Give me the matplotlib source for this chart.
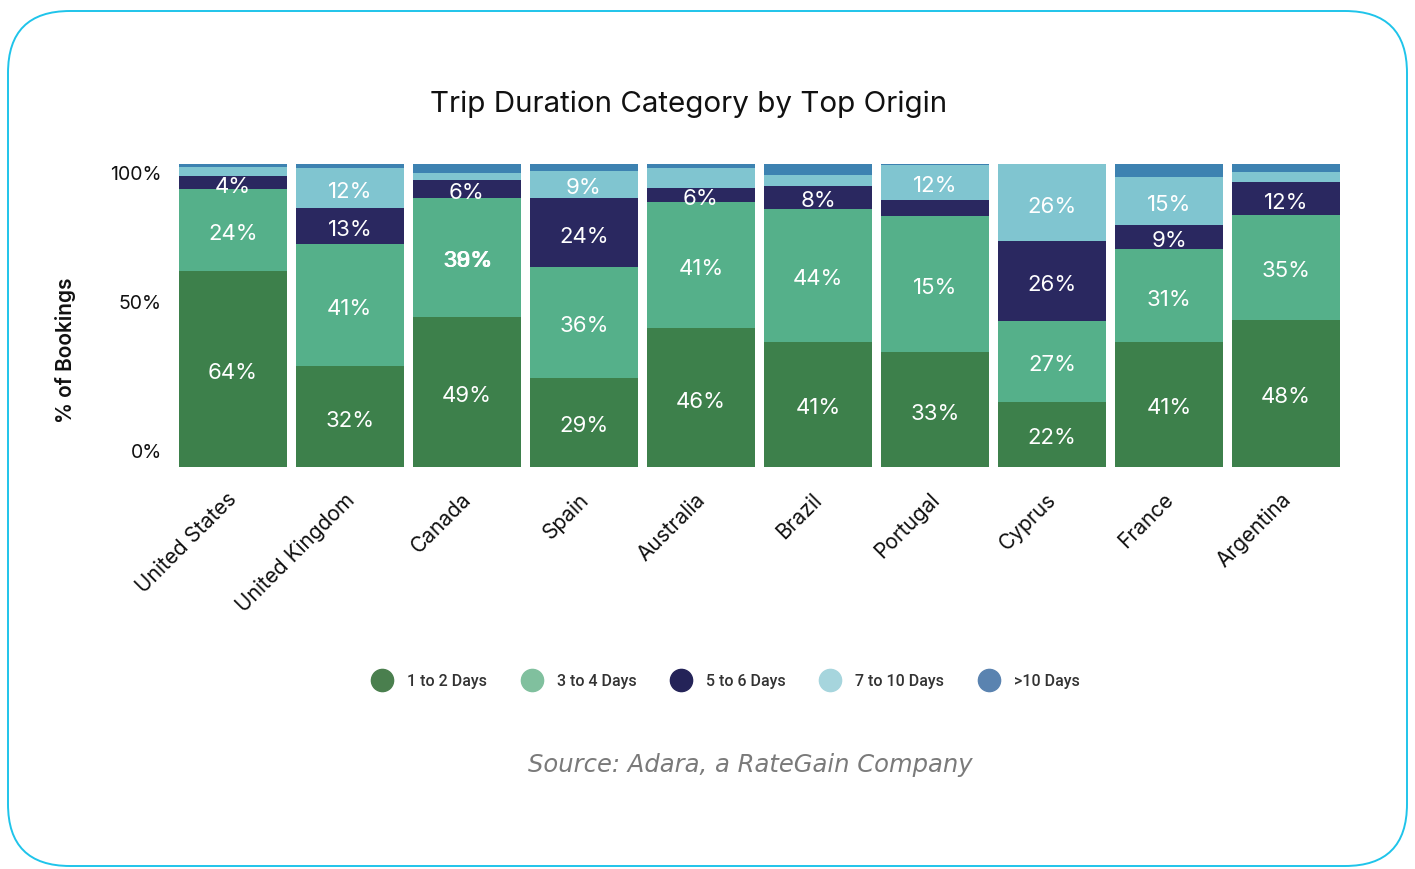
import matplotlib
matplotlib.use("Agg")
from matplotlib import pyplot as plt
from matplotlib import patches as mpatches
from matplotlib import transforms as mtransforms
from matplotlib.lines import Line2D
import numpy as np

countries = ["United States", "United Kingdom", "Canada", "Spain", "Australia",
             "Brazil", "Portugal", "Cyprus", "France", "Argentina"]

# share of bookings (%) per trip length bucket
days_1_2 = [64.6, 33.3, 49.5, 29.5, 45.8, 41.3, 37.8, 21.5, 41.3, 48.6]
days_3_4 = [27.3, 40.4, 39.4, 36.4, 41.8, 43.9, 45.1, 26.7, 30.6, 34.7]
days_5_6 = [4.0, 11.9, 5.9, 23.0, 4.6, 7.7, 5.3, 26.3, 8.1, 10.6]
days_7_10 = [3.0, 13.2, 2.3, 8.9, 6.6, 3.6, 11.6, 25.6, 15.7, 3.3]
days_10_plus = [1.2, 1.3, 3.0, 2.3, 1.3, 3.6, 0.3, 0.0, 4.4, 3.0]

# printed labels, as published
labels_1_2 = ["64%", "32%", "49%", "29%", "46%", "41%", "33%", "22%", "41%", "48%"]
labels_3_4 = ["24%", "41%", "39%", "36%", "41%", "44%", "15%", "27%", "31%", "35%"]
labels_5_6 = ["4%", "13%", "6%", "24%", "6%", "8%", "", "26%", "9%", "12%"]
labels_7_10 = ["", "12%", "", "9%", "", "", "12%", "26%", "15%", ""]
labels_10_plus = [""] * 10
# Canada's 3-4 day label is printed on top of two others
canada_extra = ["38%", "30%"]

series_names = ["1 to 2 Days", "3 to 4 Days", "5 to 6 Days", "7 to 10 Days", ">10 Days"]
bar_colors = ["#3d804b", "#55b08a", "#2a2860", "#80c5d0", "#3d82b1"]
legend_colors = ["#4a7f4e", "#80c09e", "#242358", "#a6d5dd", "#5a83b0"]

series = [days_1_2, days_3_4, days_5_6, days_7_10, days_10_plus]
series_labels = [labels_1_2, labels_3_4, labels_5_6, labels_7_10, labels_10_plus]

W, H = 1415, 870
fig = plt.figure(figsize=(W / 100, H / 100), dpi=100)
fig.patch.set_facecolor("white")

# rounded card border
frame = mpatches.FancyBboxPatch((8, 3), 1399, 855,
                                boxstyle="round,pad=0,rounding_size=62",
                                transform=mtransforms.IdentityTransform(),
                                facecolor="none", edgecolor="#1fc4ea", linewidth=1.4)
fig.add_artist(frame)

ax_left, ax_right = 174.3, 1344.7
ax_bottom, ax_top = 468, 165
ax = fig.add_axes([ax_left / W, 1 - ax_bottom / H, (ax_right - ax_left) / W, (ax_bottom - ax_top) / H])

x = np.arange(len(countries))
bottom = np.zeros(len(countries))
for vals, labs, col in zip(series, series_labels, bar_colors):
    vals = np.array(vals)
    ax.bar(x, vals, width=0.925, bottom=bottom, color=col, linewidth=0)
    for i, lab in enumerate(labs):
        if lab:
            ax.text(x[i], bottom[i] + vals[i] / 2 - 1, lab, ha="center", va="center",
                    color="white", fontsize=16, family="Inter")
    bottom += vals

# overlapping labels on Canada's 3-4 day segment
cy = days_1_2[2] + days_3_4[2] / 2 - 1
for lab in canada_extra:
    ax.text(x[2] + 0.01, cy, lab, ha="center", va="center",
            color="white", fontsize=16, family="Inter")

ax.set_xlim(-0.5, len(countries) - 0.5)
ax.set_ylim(0, 100)
for s in ax.spines.values():
    s.set_visible(False)
ax.set_yticks([])
ax.set_xticks(x)
ax.set_xticklabels(countries, rotation=45, ha="right", rotation_mode="anchor",
                   fontsize=15, family="Inter", color="#111111")
ax.tick_params(axis="x", length=0, pad=14)
shift = mtransforms.ScaledTranslation(-6 / 100, -2 / 100, fig.dpi_scale_trans)
for lbl in ax.get_xticklabels():
    lbl.set_transform(lbl.get_transform() + shift)

# percentage scale drawn on its own overlay axis
tick_ax = fig.add_axes(ax.get_position())
tick_ax.patch.set_alpha(0)
tick_ax.set_ylim(-6.1, 102.9)
tick_ax.set_xticks([])
tick_ax.set_yticks([0, 53.6, 100])
tick_ax.set_yticklabels(["0%", "50%", "100%"], fontsize=14, family="Inter", color="#111111")
tick_ax.tick_params(axis="y", length=0, pad=9)
for s in tick_ax.spines.values():
    s.set_visible(False)

fig.text(65 / W, 1 - 350 / H, "% of Bookings", rotation=90, ha="center", va="center",
         fontsize=15, family="Inter", fontweight="semibold", color="#111111")

fig.text(689 / W, 1 - 104 / H, "Trip Duration Category by Top Origin", ha="center", va="center",
         fontsize=21.3, family="Inter", color="#111111")

handles = [Line2D([], [], linestyle="none", marker="o", markersize=16,
                  markerfacecolor=c, markeredgecolor=c) for c in legend_colors]
fig.legend(handles, series_names, loc="center", bbox_to_anchor=(723 / W, 1 - 682 / H),
           ncol=5, frameon=False, handletextpad=0.55, columnspacing=1.8,
           prop={"family": "Roboto", "size": 11.5, "weight": "medium"}, labelcolor="#333333")

fig.text(750 / W, 1 - 765 / H, "Source: Adara, a RateGain Company", ha="center", va="center",
         fontsize=17.5, style="italic", family="DejaVu Sans", color="#7a7a7a")

fig.savefig("out.png", dpi=100, facecolor="white")
